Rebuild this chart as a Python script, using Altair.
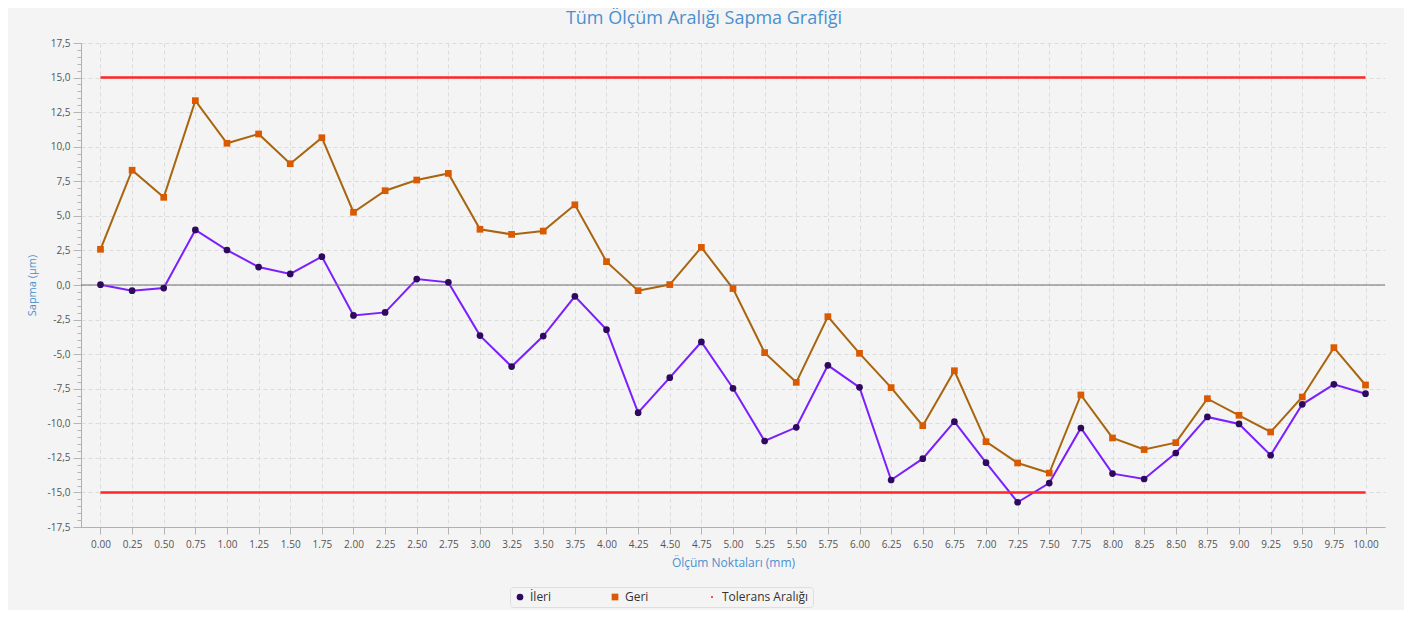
import altair as alt
import pandas as pd

x_labels = ["0.00", "0.25", "0.50", "0.75", "1.00", "1.25", "1.50", "1.75", "2.00", "2.25",
            "2.50", "2.75", "3.00", "3.25", "3.50", "3.75", "4.00", "4.25", "4.50", "4.75",
            "5.00", "5.25", "5.50", "5.75", "6.00", "6.25", "6.50", "6.75", "7.00", "7.25",
            "7.50", "7.75", "8.00", "8.25", "8.50", "8.75", "9.00", "9.25", "9.50", "9.75", "10.00"]

ileri = [0.02, -0.41, -0.22, 3.98, 2.53, 1.30, 0.80, 2.05, -2.20, -1.98,
         0.43, 0.19, -3.66, -5.90, -3.69, -0.82, -3.23, -9.23, -6.70, -4.12,
         -7.47, -11.28, -10.29, -5.81, -7.40, -14.10, -12.56, -9.88, -12.85, -15.71,
         -14.32, -10.34, -13.64, -14.03, -12.15, -9.54, -10.05, -12.31, -8.63, -7.18, -7.86]

geri = [2.58, 8.30, 6.34, 13.33, 10.25, 10.92, 8.77, 10.65, 5.26, 6.82,
        7.59, 8.07, 4.03, 3.66, 3.90, 5.80, 1.69, -0.41, 0.03, 2.72,
        -0.26, -4.89, -7.04, -2.29, -4.94, -7.42, -10.17, -6.20, -11.33, -12.87,
        -13.60, -7.95, -11.06, -11.90, -11.40, -8.22, -9.42, -10.63, -8.10, -4.53, -7.23]

series_names = ["İleri", "Geri", "Tolerans Aralığı"]
point_colors = ["#2e0a5e", "#d95a00", "#ff4d4d"]
line_series = ["Tolerans Aralığı", "İleri", "Geri"]
line_colors = ["#ff2626", "#7b1fff", "#a8650f"]
tol_upper = 15.0
tol_lower = -15.0

major_ticks = [-17.5 + 2.5 * i for i in range(15)]
minor_ticks = [-17.5 + 0.5 * i for i in range(71)]

df = pd.DataFrame({
    "x": x_labels * 2,
    "value": ileri + geri,
    "seri": ["İleri"] * len(x_labels) + ["Geri"] * len(x_labels),
})
df["cizgi"] = df["seri"]
tol = pd.DataFrame({
    "x": [x_labels[0], x_labels[-1], x_labels[0], x_labels[-1]],
    "value": [tol_upper, tol_upper, tol_lower, tol_lower],
    "cizgi": ["Tolerans Aralığı"] * 4,
    "grp": ["ust", "ust", "alt", "alt"],
})
zero = pd.DataFrame({"y": [0.0]})

FONT = "Open Sans"
yscale = alt.Scale(domain=[-17.5, 17.5], nice=False, zero=False)
xscale = alt.Scale(type="point", domain=x_labels, padding=0.616)
stroke_scale = alt.Scale(domain=line_series, range=line_colors)
color_scale = alt.Scale(domain=series_names, range=point_colors)
shape_scale = alt.Scale(domain=series_names,
                        range=["circle", "square", "M-0.3,-0.3L0.3,-0.3L0.3,0.3L-0.3,0.3Z"])

legend = alt.Legend(title=None, orient="none", legendX=429, legendY=544, direction="horizontal",
                    fillColor="#f4f4f4", strokeColor="#dedede", cornerRadius=3, padding=4,
                    labelFontSize=12, labelColor="#333333", labelFont=FONT, symbolSize=45,
                    columnPadding=57)

lines = alt.Chart(df).mark_line(strokeWidth=2).encode(
    x=alt.X("x:N", scale=xscale, sort=x_labels,
            axis=alt.Axis(title="Ölçüm Noktaları (mm)", labelAngle=0, grid=True, orient="bottom",
                          gridDash=[4, 3], gridColor="#dcdcdc", tickSize=7, tickColor="#b5b5b5",
                          domainColor="#b0b0b0", labelFontSize=10, labelColor="#555555",
                          labelFont=FONT, labelPadding=5, titleFont=FONT, titleFontSize=12,
                          titleFontWeight="normal", titleColor="#4a90d0", titlePadding=8)),
    y=alt.Y("value:Q", scale=yscale,
            axis=alt.Axis(title="Sapma (µm)", values=major_ticks, grid=True, gridDash=[4, 3],
                          orient="left",
                          gridColor="#dcdcdc", tickSize=8, tickColor="#b5b5b5",
                          domainColor="#b0b0b0", labelFontSize=10, labelColor="#555555",
                          labelFont=FONT, labelPadding=3,
                          labelExpr="replace(replace(format(datum.value, '.1f'), '.', ','), '\u2212', '-')",
                          titleFont=FONT, titleFontSize=11, titleFontWeight="normal",
                          titleColor="#4a90d0", titlePadding=10)),
    stroke=alt.Stroke("cizgi:N", scale=stroke_scale, legend=None),
    detail="cizgi:N",
)

zero_rule = alt.Chart(zero).mark_rule(color="#6e6e6e", strokeWidth=1).encode(
    y=alt.Y("y:Q", scale=yscale,
            axis=alt.Axis(values=minor_ticks, labels=False, grid=False, domain=False,
                          tickSize=4, tickColor="#b5b5b5", orient="left", title=None))
)

points = alt.Chart(df).mark_point(filled=True, size=45, opacity=1).encode(
    x=alt.X("x:N", scale=xscale, sort=x_labels, axis=None),
    y=alt.Y("value:Q", scale=yscale, axis=None),
    color=alt.Color("seri:N", scale=color_scale, legend=legend),
    shape=alt.Shape("seri:N", scale=shape_scale, legend=legend),
)

tol_lines = alt.Chart(tol).mark_line(strokeWidth=2.5).encode(
    x=alt.X("x:N", scale=xscale, sort=x_labels, axis=None),
    y=alt.Y("value:Q", scale=yscale, axis=None),
    stroke=alt.Stroke("cizgi:N", scale=stroke_scale, legend=None),
    detail="grp:N",
)

chart = alt.layer(lines, zero_rule, tol_lines, points).resolve_axis(
    y="independent", x="independent"
).properties(
    width=1304,
    height=484,
    padding={"left": 73, "top": 35, "right": 19, "bottom": 83},
    autosize=alt.AutoSizeParams(type="none"),
    background="#f4f4f4",
    title=alt.TitleParams("Tüm Ölçüm Aralığı Sapma Grafiği", fontSize=18, font=FONT,
                          fontWeight="normal", color="#4a90d0", anchor="middle", dx=-29, offset=10),
).configure_view(stroke=None)

chart.save("out.html", embed_options={"renderer": "svg", "actions": False})
